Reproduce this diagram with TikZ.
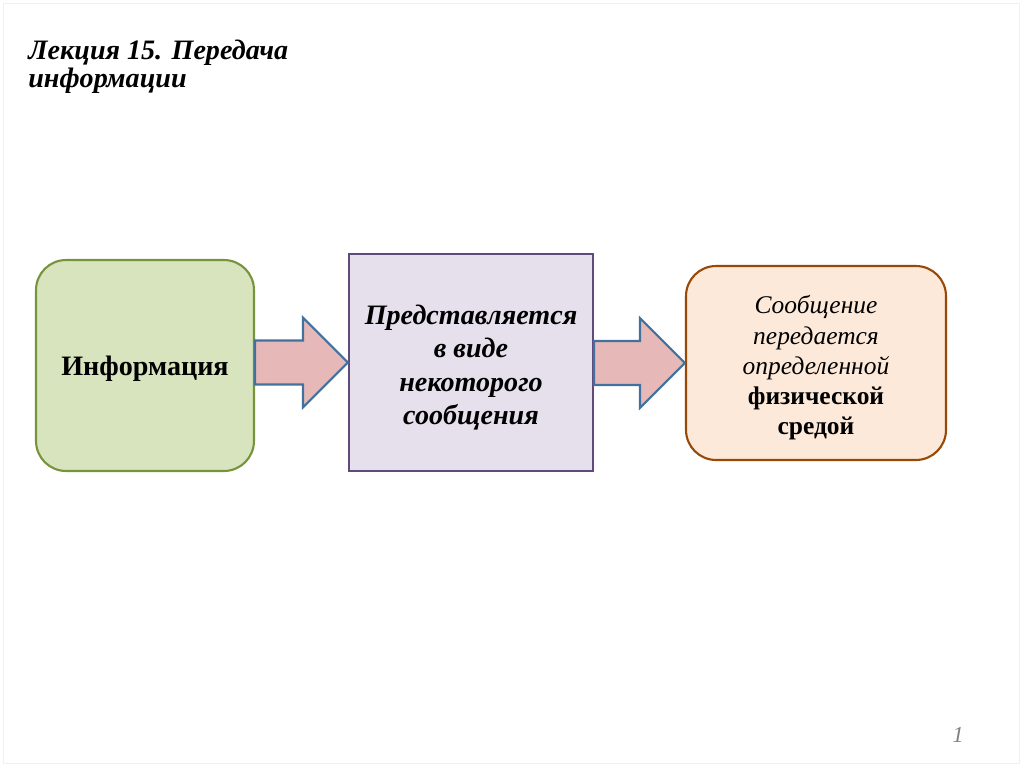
\documentclass[tikz,border=0pt]{standalone}
\usepackage{fontspec}
\setmainfont{Liberation Serif}
\usetikzlibrary{calc}

\definecolor{infofill}{HTML}{D7E4BD}
\definecolor{infodraw}{HTML}{77933C}
\definecolor{midfill}{HTML}{E5E0EC}
\definecolor{middraw}{HTML}{604A7B}
\definecolor{msgfill}{HTML}{FDE9D9}
\definecolor{msgdraw}{HTML}{984807}
\definecolor{arrowfill}{HTML}{E6B9B8}
\definecolor{arrowdraw}{HTML}{41719C}

\begin{document}
\begin{tikzpicture}[x=0.02cm,y=-0.02cm,
    box/.style={draw, line width=1.2pt, inner sep=0pt},
    boxtext/.style={align=center, inner sep=0pt},
    bigarrow/.style={draw=arrowdraw, fill=arrowfill, line width=1.2pt, line join=miter}]

\useasboundingbox (0,0) rectangle (1024,767);
\draw[black!6] (3,3) rectangle (1019,763);

% title
    \node[anchor=base west, align=left, inner sep=0pt,
          font=\fontsize{16pt}{16pt}\selectfont\bfseries\itshape] (title) at (28,88)
          {Лекция 15. Передача\\информации};

% boxes
    \node[box, fill=infofill, draw=infodraw, rounded corners=0.6cm,
          minimum width=4.36cm, minimum height=4.22cm] (info) at (145,365.5) {};
    \node[box, fill=midfill, draw=middraw,
          minimum width=4.88cm, minimum height=4.34cm] (mid) at (471,362.5) {};
    \node[box, fill=msgfill, draw=msgdraw, rounded corners=0.6cm,
          minimum width=5.2cm, minimum height=3.88cm] (msg) at (816,363) {};

% texts
    \node[boxtext, font=\fontsize{16pt}{18pt}\selectfont\bfseries] (infotext)
          at ($(info.center)+(0,3)$) {Информация};
    \node[boxtext, font=\fontsize{16pt}{19.1pt}\selectfont\bfseries\itshape] (midtext)
          at ($(mid.center)+(0,5)$) {Представляется\\в виде\\некоторого\\сообщения};
    \node[boxtext, font=\fontsize{14.5pt}{17.2pt}\selectfont] (msgtext)
          at ($(msg.center)+(0,5)$)
          {\itshape Сообщение\\\itshape передается\\\itshape определенной\\\bfseries физической\\\bfseries средой};

% arrows
    \foreach \a/\b in {info/mid, mid/msg}{
        \draw[bigarrow] ($(\a.east |- \b.west)+(0,-22)$) -- ($(\b.west)+(-45,-22)$)
            -- ($(\b.west)+(-45,-45)$) -- (\b.west) -- ($(\b.west)+(-45,45)$)
            -- ($(\b.west)+(-45,22)$) -- ($(\a.east |- \b.west)+(0,22)$) -- cycle;
    }

% page number
    \node[anchor=base, text=black!50, font=\fontsize{13pt}{13pt}\selectfont\itshape] (page) at (958,742) {1};

\end{tikzpicture}
\end{document}
